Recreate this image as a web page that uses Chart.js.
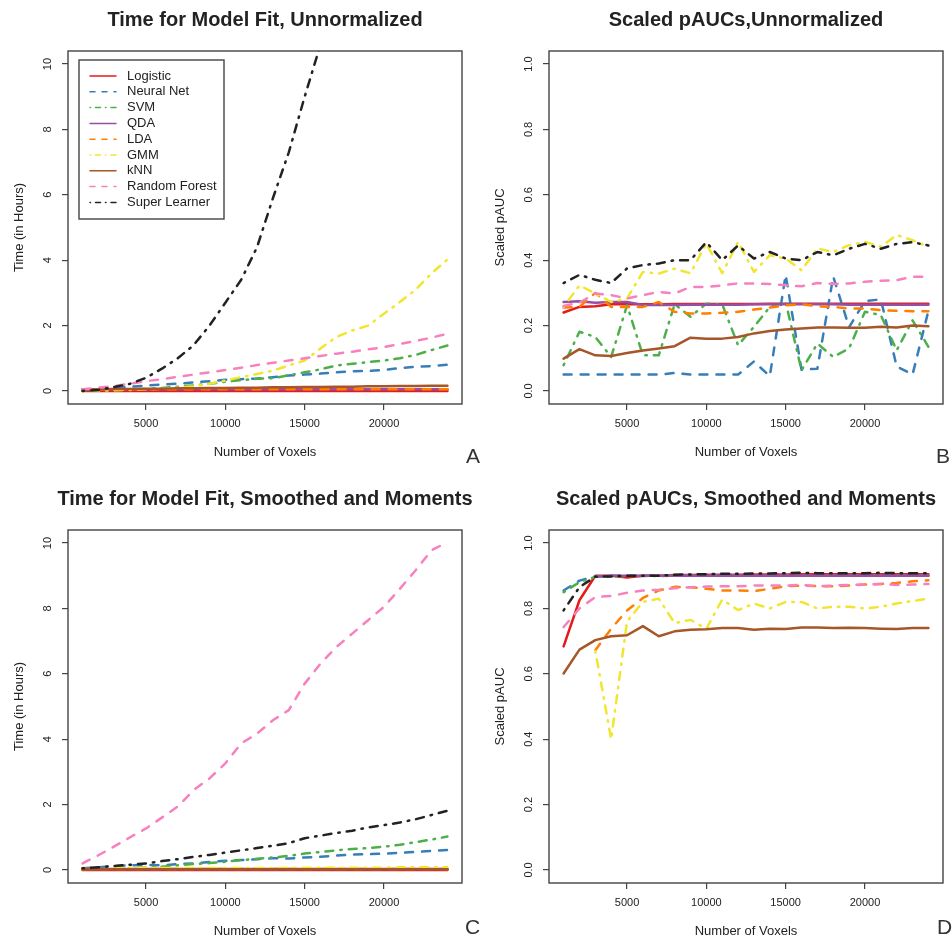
<!DOCTYPE html>
<html>
<head>
<meta charset="utf-8">
<title>Model fit time and scaled pAUC</title>
<script src="https://cdn.jsdelivr.net/npm/chart.js@4.4.1/dist/chart.umd.min.js"></script>
<style>
  body { margin: 0; background: #fff; }
  #wrap { position: relative; width: 952px; height: 939px; overflow: hidden; }
  #wrap canvas { position: absolute; }
  .tag { position: absolute; font: 21px "Liberation Sans", Arial, sans-serif; line-height: 21px; color: #333; z-index: 2; }
</style>
</head>
<body>
<div id="wrap">
  <canvas id="chartA" width="476" height="470" style="left:0;top:0"></canvas>
  <canvas id="chartB" width="476" height="470" style="left:476px;top:0"></canvas>
  <canvas id="chartC" width="476" height="469" style="left:0;top:470px"></canvas>
  <canvas id="chartD" width="476" height="469" style="left:476px;top:470px"></canvas>
  <div class="tag" style="left:466px;top:445px">A</div>
  <div class="tag" style="left:936px;top:445px">B</div>
  <div class="tag" style="left:465px;top:916px">C</div>
  <div class="tag" style="left:937px;top:916px">D</div>
</div>
<script>
// x values (number of voxels)
const voxels = [1000, 2000, 3000, 4000, 5000, 6000, 7000, 8000, 9000, 10000, 11000, 12000,
                13000, 14000, 15000, 16000, 17000, 18000, 19000, 20000, 21000, 22000, 23000, 24000];
const xTicks = [5000, 10000, 15000, 20000];
const timeTicks = [0, 2, 4, 6, 8, 10];
const aucTicks = [0, 0.2, 0.4, 0.6, 0.8, 1.0];

const modelNames = ['Logistic', 'Neural Net', 'SVM', 'QDA', 'LDA', 'GMM', 'kNN', 'Random Forest', 'Super Learner'];
const lineColors = ['#E41A1C', '#377EB8', '#4DAF4A', '#984EA3', '#FF7F00', '#F2E530', '#A65628', '#F781BF', '#222222'];
const lineTypes = ['solid', 'dashed', 'dotdash', 'solid', 'dashed', 'dotdash', 'solid', 'dashed', 'dotdash'];

// A: time for model fit, unnormalized (hours)
const timeRawLogistic = [0, 0, 0, 0, 0, 0, 0, 0, 0, 0, 0, 0, 0, 0, 0, 0, 0, 0, 0, 0, 0, 0, 0, 0];
const timeRawNeuralNet = [0.02, 0.05, 0.09, 0.13, 0.16, 0.2, 0.22, 0.26, 0.3, 0.34, 0.36, 0.38, 0.42, 0.47, 0.5, 0.53, 0.57, 0.6, 0.61, 0.64, 0.7, 0.74, 0.76, 0.8];
const timeRawSVM = [0.0, 0.02, 0.03, 0.04, 0.06, 0.09, 0.13, 0.17, 0.22, 0.28, 0.33, 0.37, 0.39, 0.48, 0.57, 0.66, 0.78, 0.83, 0.88, 0.93, 1.0, 1.1, 1.25, 1.39];
const timeRawQDA = [0.05, 0.05, 0.05, 0.05, 0.05, 0.05, 0.05, 0.05, 0.05, 0.05, 0.05, 0.05, 0.05, 0.05, 0.05, 0.05, 0.05, 0.05, 0.05, 0.05, 0.05, 0.05, 0.05, 0.05];
const timeRawLDA = [0.05, 0.05, 0.05, 0.05, 0.05, 0.05, 0.05, 0.05, 0.05, 0.05, 0.05, 0.05, 0.05, 0.05, 0.05, 0.05, 0.05, 0.05, 0.05, 0.05, 0.05, 0.05, 0.05, 0.05];
const timeRawGMM = [0.0, 0.01, 0.02, 0.03, 0.05, 0.07, 0.1, 0.14, 0.22, 0.32, 0.42, 0.52, 0.62, 0.78, 0.93, 1.3, 1.65, 1.85, 2.0, 2.36, 2.72, 3.1, 3.6, 4.02];
const timeRawKNN = [0.05, 0.05, 0.06, 0.06, 0.07, 0.07, 0.08, 0.08, 0.09, 0.09, 0.1, 0.1, 0.11, 0.11, 0.12, 0.12, 0.13, 0.13, 0.14, 0.14, 0.15, 0.15, 0.16, 0.16];
const timeRawRF = [0.05, 0.1, 0.15, 0.22, 0.3, 0.36, 0.43, 0.5, 0.57, 0.64, 0.71, 0.79, 0.86, 0.93, 1.0, 1.07, 1.14, 1.2, 1.27, 1.34, 1.44, 1.53, 1.63, 1.75];
const timeRawSL = [0.0, 0.03, 0.12, 0.22, 0.4, 0.68, 1.0, 1.4, 2.0, 2.7, 3.4, 4.4, 5.9, 7.3, 9.0, 10.6, null, null, null, null, null, null, null, null];

// B: scaled pAUC, unnormalized
const aucRawLogistic = [0.24, 0.257, 0.259, 0.265, 0.266, 0.265, 0.265, 0.266, 0.266, 0.266, 0.266, 0.266, 0.266, 0.267, 0.267, 0.267, 0.267, 0.267, 0.267, 0.267, 0.267, 0.267, 0.267, 0.267];
const aucRawNeuralNet = [0.05, 0.05, 0.05, 0.05, 0.05, 0.05, 0.05, 0.055, 0.05, 0.05, 0.05, 0.05, 0.09, 0.045, 0.355, 0.065, 0.068, 0.35, 0.195, 0.275, 0.28, 0.075, 0.05, 0.245];
const aucRawSVM = [0.079, 0.181, 0.165, 0.104, 0.262, 0.109, 0.109, 0.265, 0.227, 0.267, 0.265, 0.14, 0.196, 0.257, 0.272, 0.063, 0.145, 0.104, 0.13, 0.242, 0.232, 0.124, 0.216, 0.135];
const aucRawQDA = [0.272, 0.274, 0.27, 0.272, 0.272, 0.263, 0.264, 0.263, 0.264, 0.264, 0.264, 0.264, 0.265, 0.265, 0.265, 0.265, 0.265, 0.265, 0.264, 0.264, 0.264, 0.264, 0.264, 0.264];
const aucRawLDA = [0.255, 0.257, 0.3, 0.257, 0.257, 0.257, 0.272, 0.242, 0.237, 0.237, 0.239, 0.242, 0.249, 0.255, 0.262, 0.265, 0.259, 0.257, 0.252, 0.252, 0.247, 0.245, 0.244, 0.244];
const aucRawGMM = [0.257, 0.323, 0.298, 0.272, 0.283, 0.364, 0.359, 0.374, 0.36, 0.451, 0.36, 0.456, 0.364, 0.415, 0.405, 0.369, 0.436, 0.425, 0.446, 0.456, 0.441, 0.477, 0.461, 0.441];
const aucRawKNN = [0.099, 0.128, 0.109, 0.107, 0.116, 0.124, 0.13, 0.137, 0.163, 0.16, 0.16, 0.165, 0.176, 0.183, 0.188, 0.191, 0.194, 0.194, 0.193, 0.193, 0.196, 0.194, 0.2, 0.198];
const aucRawRF = [0.26, 0.27, 0.298, 0.293, 0.283, 0.293, 0.303, 0.298, 0.318, 0.318, 0.323, 0.329, 0.329, 0.327, 0.323, 0.32, 0.33, 0.327, 0.329, 0.334, 0.337, 0.339, 0.349, 0.349];
const aucRawSL = [0.33, 0.355, 0.34, 0.33, 0.375, 0.385, 0.39, 0.4, 0.4, 0.455, 0.4, 0.445, 0.405, 0.425, 0.405, 0.4, 0.425, 0.415, 0.435, 0.45, 0.435, 0.45, 0.455, 0.445];

// C: time for model fit, smoothed and moments (hours)
const timeSmLogistic = [0, 0, 0, 0, 0, 0, 0, 0, 0, 0, 0, 0, 0, 0, 0, 0, 0, 0, 0, 0, 0, 0, 0, 0];
const timeSmNeuralNet = [0.05, 0.08, 0.12, 0.14, 0.15, 0.14, 0.18, 0.2, 0.24, 0.28, 0.3, 0.33, 0.36, 0.35, 0.38, 0.4, 0.44, 0.47, 0.48, 0.5, 0.52, 0.55, 0.58, 0.61];
const timeSmSVM = [0.02, 0.03, 0.05, 0.06, 0.07, 0.1, 0.14, 0.18, 0.21, 0.25, 0.3, 0.34, 0.38, 0.43, 0.5, 0.55, 0.6, 0.64, 0.67, 0.71, 0.77, 0.85, 0.93, 1.02];
const timeSmQDA = [0.03, 0.03, 0.03, 0.03, 0.03, 0.03, 0.03, 0.03, 0.03, 0.03, 0.03, 0.03, 0.03, 0.03, 0.03, 0.03, 0.03, 0.03, 0.03, 0.03, 0.03, 0.03, 0.03, 0.03];
const timeSmLDA = [0.03, 0.03, 0.03, 0.03, 0.03, 0.03, 0.03, 0.03, 0.03, 0.03, 0.03, 0.03, 0.03, 0.03, 0.03, 0.03, 0.03, 0.03, 0.03, 0.03, 0.03, 0.03, 0.03, 0.03];
const timeSmGMM = [0.06, 0.06, 0.06, 0.06, 0.06, 0.06, 0.06, 0.06, 0.06, 0.06, 0.06, 0.06, 0.06, 0.06, 0.07, 0.07, 0.07, 0.07, 0.07, 0.07, 0.08, 0.08, 0.08, 0.08];
const timeSmKNN = [0.02, 0.02, 0.02, 0.02, 0.02, 0.02, 0.02, 0.02, 0.02, 0.02, 0.02, 0.02, 0.02, 0.02, 0.02, 0.02, 0.02, 0.02, 0.02, 0.02, 0.02, 0.02, 0.02, 0.02];
const timeSmRF = [0.2, 0.45, 0.72, 1.0, 1.27, 1.6, 1.94, 2.44, 2.8, 3.26, 3.87, 4.17, 4.58, 4.89, 5.7, 6.31, 6.82, 7.23, 7.64, 8.05, 8.6, 9.17, 9.78, 10.03];
const timeSmSL = [0.05, 0.08, 0.12, 0.16, 0.2, 0.27, 0.33, 0.4, 0.46, 0.53, 0.6, 0.67, 0.74, 0.82, 0.97, 1.05, 1.13, 1.2, 1.3, 1.37, 1.45, 1.55, 1.68, 1.81];

// D: scaled pAUC, smoothed and moments
const aucSmLogistic = [0.684, 0.825, 0.9, 0.9, 0.895, 0.9, 0.9, 0.902, 0.902, 0.903, 0.903, 0.903, 0.904, 0.904, 0.904, 0.905, 0.905, 0.905, 0.905, 0.905, 0.905, 0.905, 0.905, 0.905];
const aucSmNeuralNet = [0.855, 0.885, 0.898, 0.9, 0.9, 0.9, 0.9, 0.9, 0.9, 0.9, 0.9, 0.9, 0.9, 0.9, 0.9, 0.9, 0.9, 0.9, 0.9, 0.9, 0.9, 0.9, 0.9, 0.9];
const aucSmSVM = [0.85, 0.88, 0.897, 0.898, 0.899, 0.899, 0.899, 0.9, 0.9, 0.9, 0.9, 0.9, 0.9, 0.9, 0.9, 0.9, 0.9, 0.9, 0.9, 0.9, 0.9, 0.9, 0.9, 0.9];
const aucSmQDA = [null, null, 0.897, 0.9, 0.9, 0.9, 0.9, 0.9, 0.9, 0.9, 0.9, 0.9, 0.9, 0.9, 0.9, 0.9, 0.9, 0.9, 0.9, 0.9, 0.9, 0.9, 0.9, 0.9];
const aucSmLDA = [null, null, 0.672, 0.738, 0.794, 0.832, 0.855, 0.866, 0.865, 0.86, 0.855, 0.855, 0.853, 0.86, 0.868, 0.87, 0.868, 0.868, 0.87, 0.873, 0.875, 0.878, 0.883, 0.886];
const aucSmGMM = [null, null, 0.67, 0.4, 0.76, 0.82, 0.83, 0.755, 0.765, 0.738, 0.827, 0.795, 0.815, 0.8, 0.82, 0.82, 0.8, 0.805, 0.805, 0.8, 0.805, 0.815, 0.823, 0.83];
const aucSmKNN = [0.601, 0.674, 0.703, 0.715, 0.718, 0.746, 0.715, 0.73, 0.735, 0.736, 0.74, 0.74, 0.735, 0.738, 0.737, 0.742, 0.742, 0.74, 0.741, 0.74, 0.738, 0.737, 0.74, 0.74];
const aucSmRF = [0.743, 0.8, 0.835, 0.838, 0.848, 0.855, 0.857, 0.862, 0.865, 0.867, 0.868, 0.868, 0.87, 0.87, 0.87, 0.872, 0.868, 0.87, 0.872, 0.873, 0.875, 0.872, 0.873, 0.875];
const aucSmSL = [0.794, 0.865, 0.897, 0.898, 0.9, 0.9, 0.9, 0.903, 0.904, 0.905, 0.906, 0.906, 0.907, 0.907, 0.908, 0.909, 0.908, 0.908, 0.908, 0.908, 0.909, 0.908, 0.908, 0.908];

const FONT = '"Liberation Sans", Arial, Helvetica, sans-serif';
Chart.defaults.font.family = FONT;
Chart.defaults.color = '#222';

// R style line types, widths for the plot and for the legend samples
const plotDash = { solid: [], dashed: [8, 9], dotdash: [1.5, 7, 8, 7] };
const legendDash = { solid: [], dashed: [5, 7], dotdash: [0.5, 5, 5, 5] };

function makeDatasets(series) {
  return series.map((vals, i) => ({
    label: modelNames[i],
    data: vals.map((v, j) => ({ x: voxels[j], y: v })),
    borderColor: lineColors[i],
    borderWidth: 2.5,
    borderDash: plotDash[lineTypes[i]],
    borderCapStyle: 'round',
    borderJoinStyle: 'round',
    pointRadius: 0,
    tension: 0,
    fill: false,
    order: -i   // later series on top, like R
  }));
}

// box, title, rotated y tick labels and the legend
const panelDecor = {
  id: 'panelDecor',
  afterDraw(chart, args, opts) {
    const ctx = chart.ctx;
    const a = chart.chartArea;
    ctx.save();
    ctx.strokeStyle = '#444';
    ctx.lineWidth = 1.4;
    ctx.strokeRect(a.left, a.top, a.right - a.left, a.bottom - a.top);

    ctx.fillStyle = '#222';
    ctx.font = 'bold 20px ' + FONT;
    ctx.textAlign = 'center';
    ctx.textBaseline = 'middle';
    ctx.fillText(opts.title, (a.left + a.right) / 2, opts.titleY);

    const ys = chart.scales.y;
    ctx.font = '11px ' + FONT;
    ys.ticks.forEach(t => {
      ctx.save();
      ctx.translate(a.left - 20, ys.getPixelForValue(t.value));
      ctx.rotate(-Math.PI / 2);
      ctx.fillText(t.label, 0, 0);
      ctx.restore();
    });

    if (opts.legend) {
      const lx = a.left + 11, ly = a.top + 9;
      ctx.fillStyle = '#fff';
      ctx.fillRect(lx, ly, 145, 159);
      ctx.strokeStyle = '#444';
      ctx.lineWidth = 1.4;
      ctx.strokeRect(lx, ly, 145, 159);
      ctx.font = '13px ' + FONT;
      ctx.textAlign = 'left';
      chart.data.datasets.forEach((ds, i) => {
        const y = a.top + 25 + i * 15.8;
        ctx.strokeStyle = ds.borderColor;
        ctx.lineWidth = 1.5;
        ctx.lineCap = 'round';
        ctx.setLineDash(legendDash[lineTypes[i]]);
        ctx.beginPath();
        ctx.moveTo(a.left + 22, y);
        ctx.lineTo(a.left + 48, y);
        ctx.stroke();
        ctx.setLineDash([]);
        ctx.fillStyle = '#222';
        ctx.fillText(ds.label, a.left + 59, y);
      });
    }
    ctx.restore();
  }
};

function makeChart(id, series, cfg) {
  const tickLine = { drawOnChartArea: false, drawTicks: true, tickLength: 6, color: '#444', lineWidth: 1.2 };
  return new Chart(document.getElementById(id), {
    type: 'line',
    data: { datasets: makeDatasets(series) },
    options: {
      responsive: false,
      animation: false,
      devicePixelRatio: 1,
      layout: { padding: { top: cfg.padTop, right: cfg.padRight, left: 0, bottom: 0 } },
      scales: {
        x: {
          type: 'linear', min: 80, max: 24920,
          afterFit: s => { s.height = cfg.xHeight; },
          afterBuildTicks: s => { s.ticks = xTicks.map(v => ({ value: v })); },
          ticks: { autoSkip: false, maxRotation: 0, padding: 7, font: { size: 11 }, color: '#222', callback: v => String(v) },
          grid: tickLine,
          border: { display: false },
          title: { display: true, text: 'Number of Voxels', font: { size: 13 }, color: '#222', padding: { top: 0, bottom: cfg.xTitlePad } }
        },
        y: {
          type: 'linear', min: cfg.yMin, max: cfg.yMax,
          afterFit: s => { s.width = cfg.yWidth; },
          afterBuildTicks: s => { s.ticks = cfg.yTicks.map(v => ({ value: v })); },
          ticks: { display: false, callback: cfg.yFmt },
          grid: tickLine,
          border: { display: false },
          title: { display: true, text: cfg.yTitle, font: { size: 13 }, color: '#222', padding: { top: cfg.yTitlePad, bottom: 0 } }
        }
      },
      plugins: {
        legend: { display: false },
        tooltip: { enabled: false },
        panelDecor: { title: cfg.title, titleY: cfg.titleY, legend: !!cfg.legend }
      }
    },
    plugins: [panelDecor]
  });
}

const timeFmt = v => String(v);
const aucFmt = v => v.toFixed(1);

makeChart('chartA',
  [timeRawLogistic, timeRawNeuralNet, timeRawSVM, timeRawQDA, timeRawLDA, timeRawGMM, timeRawKNN, timeRawRF, timeRawSL],
  { title: 'Time for Model Fit, Unnormalized', titleY: 20, padTop: 51, padRight: 14, yWidth: 68, xHeight: 66,
    yMin: -0.4, yMax: 10.4, yTicks: timeTicks, yFmt: timeFmt, yTitle: 'Time (in Hours)', yTitlePad: 12, xTitlePad: 10, legend: true });

makeChart('chartB',
  [aucRawLogistic, aucRawNeuralNet, aucRawSVM, aucRawQDA, aucRawLDA, aucRawGMM, aucRawKNN, aucRawRF, aucRawSL],
  { title: 'Scaled pAUCs,Unnormalized', titleY: 20, padTop: 51, padRight: 9, yWidth: 73, xHeight: 66,
    yMin: -0.04, yMax: 1.04, yTicks: aucTicks, yFmt: aucFmt, yTitle: 'Scaled pAUC', yTitlePad: 17, xTitlePad: 10 });

makeChart('chartC',
  [timeSmLogistic, timeSmNeuralNet, timeSmSVM, timeSmQDA, timeSmLDA, timeSmGMM, timeSmKNN, timeSmRF, timeSmSL],
  { title: 'Time for Model Fit, Smoothed and Moments', titleY: 29, padTop: 60, padRight: 14, yWidth: 68, xHeight: 56,
    yMin: -0.4, yMax: 10.4, yTicks: timeTicks, yFmt: timeFmt, yTitle: 'Time (in Hours)', yTitlePad: 12, xTitlePad: 0 });

makeChart('chartD',
  [aucSmLogistic, aucSmNeuralNet, aucSmSVM, aucSmQDA, aucSmLDA, aucSmGMM, aucSmKNN, aucSmRF, aucSmSL],
  { title: 'Scaled pAUCs, Smoothed and Moments', titleY: 29, padTop: 60, padRight: 9, yWidth: 73, xHeight: 56,
    yMin: -0.04, yMax: 1.04, yTicks: aucTicks, yFmt: aucFmt, yTitle: 'Scaled pAUC', yTitlePad: 17, xTitlePad: 0 });
</script>
</body>
</html>
